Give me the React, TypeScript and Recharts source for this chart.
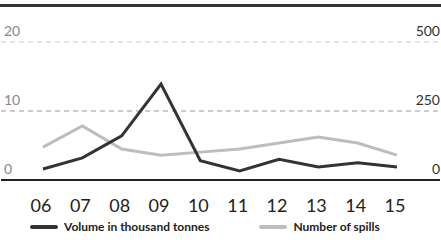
import { LineChart, Line, XAxis, YAxis, ReferenceLine } from "recharts";

const years = ["06", "07", "08", "09", "10", "11", "12", "13", "14", "15"];
const volume = [1.6, 3.2, 6.4, 13.9, 2.8, 1.3, 3.0, 1.9, 2.5, 1.9];
const spills = [119, 196, 112, 90, 101, 112, 134, 156, 134, 90];

const leftTicks = [0, 10, 20];
const rightTicks = [0, 250, 500];

const legendItems = [
  { label: "Volume in thousand tonnes", color: "#333" },
  { label: "Number of spills", color: "#bdbdbd" },
];

const data = years.map((y, i) => ({ year: y, volume: volume[i], spills: spills[i] }));

const FONT = "Lato, 'Open Sans', sans-serif";

function LeftTick({ y, payload }: any) {
  return (
    <text x={4} y={y - 12} fill="#888" fontSize={14} fontFamily={FONT} dominantBaseline="central">
      {payload.value}
    </text>
  );
}

function RightTick({ y, payload }: any) {
  return (
    <text x={440} y={y - 12} fill="#333" fontSize={14} fontFamily={FONT} textAnchor="end" dominantBaseline="central">
      {payload.value}
    </text>
  );
}

function XTick({ x, y, payload }: any) {
  return (
    <text x={x - 2} y={y + 17} fill="#222" fontSize={18} fontFamily={FONT} textAnchor="middle" dominantBaseline="central">
      {payload.value}
    </text>
  );
}

export default function App() {
  return (
    <div style={{ position: "absolute", left: 0, top: 0, width: 441, height: 240, background: "#fff" }}>
      <div style={{ position: "absolute", left: 0, top: 4, width: 441, height: 3, background: "#333" }} />
      <LineChart width={441} height={240} data={data} margin={{ top: 42, right: 0, left: 0, bottom: 30 }}>
        <XAxis
          dataKey="year"
          axisLine={{ stroke: "#222", strokeWidth: 2 }}
          tickLine={false}
          tick={<XTick />}
          interval={0}
          height={30}
          padding={{ left: 42, right: 43 }}
        />
        <YAxis yAxisId="left" width={1} domain={[0, 20]} ticks={leftTicks} axisLine={false} tickLine={false} tick={<LeftTick />} />
        <YAxis yAxisId="right" orientation="right" width={1} domain={[0, 500]} ticks={rightTicks} axisLine={false} tickLine={false} tick={<RightTick />} />
        <ReferenceLine yAxisId="left" y={20} stroke="#c8c8c8" strokeDasharray="5 4" />
        <ReferenceLine yAxisId="left" y={10} stroke="#999" strokeDasharray="5 4" />
        <Line yAxisId="right" dataKey="spills" stroke="#bdbdbd" strokeWidth={3} dot={false} isAnimationActive={false} />
        <Line yAxisId="left" dataKey="volume" stroke="#333" strokeWidth={3} dot={false} isAnimationActive={false} />
      </LineChart>
      <div
        style={{
          position: "absolute",
          left: 30,
          top: 219,
          display: "flex",
          gap: 50,
          fontFamily: FONT,
          fontSize: 12,
          fontWeight: 700,
          color: "#222",
          whiteSpace: "nowrap",
        }}
      >
        {legendItems.map((it) => (
          <div key={it.label} style={{ display: "flex", alignItems: "center", gap: 6 }}>
            <div style={{ width: 28, height: 4, borderRadius: 2, background: it.color }} />
            <span>{it.label}</span>
          </div>
        ))}
      </div>
    </div>
  );
}
